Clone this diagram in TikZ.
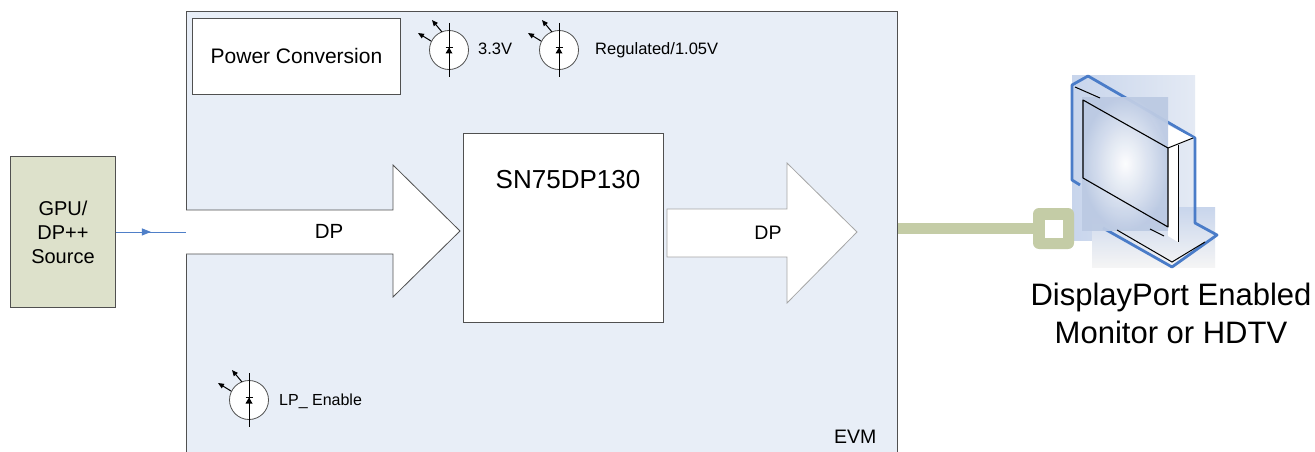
\documentclass[tikz,border=0pt]{standalone}
\usepackage{fontspec}
\setmainfont{Liberation Sans}
\usetikzlibrary{decorations.markings,arrows.meta}
\definecolor{evmfill}{HTML}{E8EEF7}
\definecolor{gpufill}{HTML}{DDE1CB}
\definecolor{cablecol}{HTML}{C4CCA6}
\definecolor{linkblue}{HTML}{4F7FC8}
\definecolor{monblue}{HTML}{4A7CC8}
\definecolor{monlight}{HTML}{C8D5EC}
\definecolor{monpale}{HTML}{E4EAF4}
\definecolor{screenedge}{HTML}{BCCAE3}
\definecolor{boxline}{HTML}{505050}
\begin{document}
\begin{tikzpicture}[x=1pt,y=-1pt,
  evmbox/.style={draw=boxline, line width=0.9pt, fill=evmfill, inner sep=0pt},
  gpubox/.style={draw=boxline, line width=0.9pt, fill=gpufill, inner sep=0pt, align=center,
     font=\fontsize{20}{24}\selectfont},
  whitebox/.style={draw=boxline, line width=0.9pt, fill=white, inner sep=0pt},
  bigarrow/.style={fill=white, line width=0.8pt, line join=miter},
  lbl/.style={inner sep=0pt, anchor=base west, font=\fontsize{16.5}{18}\selectfont},
  linkline/.style={draw=linkblue, line width=0.9pt,
     postaction={decorate}, decoration={markings,
       mark=at position 0.5 with {\arrow[linkblue]{Triangle[length=9pt,width=7pt]}}}},
  cable/.style={draw=cablecol, line width=11pt},
  led/.pic={
    \draw[fill=white, draw=boxline, line width=0.8pt] (0,0) circle (19.5);
    \draw[line width=0.9pt] (0,-27) -- (0,27);
    \fill (-3.5,3.5) -- (3.5,3.5) -- (0,-2.5) -- cycle;
    \draw[line width=1pt] (-3.5,-2.8) -- (3.5,-2.8);
    \draw[line width=1pt, -{Triangle[length=6pt,width=5pt]}] (-18,-9) -- (-31,-17);
    \draw[line width=1pt, -{Triangle[length=6pt,width=5pt]}] (-7,-18) -- (-17,-30);
  }]
\useasboundingbox (0,0) rectangle (1315,452);
\clip (0,0) rectangle (1315,452);
\fill[white] (0,0) rectangle (1315,452);

% EVM board
\node[evmbox, minimum width=711pt, minimum height=470pt, anchor=north west] (evm) at (186,11) {};
\node[inner sep=0pt, anchor=base west, font=\fontsize{19.5}{22}\selectfont] (evmlabel) at (834,443) {EVM};

% Power conversion
\node[whitebox, minimum width=208pt, minimum height=76pt, anchor=north west,
      font=\fontsize{21}{24}\selectfont] (pc) at (192,18) {Power Conversion};

% LED indicators
\pic at (449,50) {led};
\node[lbl] (l33) at (478,55) {3.3V};
\pic at (559,50) {led};
\node[lbl] (lreg) at (595,55) {Regulated/1.05V};
\pic at (249,400) {led};
\node[lbl, font=\fontsize{16}{18}\selectfont] (llp) at (279,405) {LP\_ Enable};

% Input DP arrow
\draw[bigarrow, draw=boxline] (186,210) -- (393,210) -- (393,165) -- (460,231)
   -- (393,297) -- (393,254) -- (186,254);
\node[font=\fontsize{20.5}{24}\selectfont] (dpin) at (329,231) {DP};

% Chip
\node[whitebox, minimum width=200pt, minimum height=189pt, anchor=north west] (chip) at (463,133) {};
\node[font=\fontsize{26}{30}\selectfont] (chiplabel) at (568,180) {SN75DP130};

% Output DP arrow
\draw[bigarrow, draw=gray!70] (667,209) -- (787,209) -- (787,163) -- (857,232)
   -- (787,303) -- (787,257) -- (667,257) -- cycle;
\node[font=\fontsize{19.5}{24}\selectfont] (dpout) at (768,233) {DP};

% GPU source
\node[gpubox, minimum width=105pt, minimum height=151pt, anchor=north west] (gpu) at (10,156) {GPU/\\DP++\\Source};
\draw[linkline] (gpu.east) -- (evm.west |- gpu.east);

% Monitor
\shade[left color=monlight, right color=monpale] (1072,76) rectangle (1195,240);
\shade[top color=monlight, bottom color=gray!8] (1092,207) rectangle (1215,267);
\draw[monblue, line width=2.8pt, line join=round] (1080,185) -- (1072,180) -- (1072,85)
   -- (1088,76) -- (1195,138) -- (1195,223) -- (1217,235) -- (1172,267) -- (1103,228);
\fill[white] (1150,116) -- (1193,138) -- (1178,145) -- (1168,148) -- cycle;
\fill[white] (1168,148) -- (1178,145) -- (1178,242) -- (1168,236) -- cycle;
\shade[inner color=white, outer color=screenedge, opacity=0.95] (1082,97) rectangle (1168,230);
\draw[line width=1.1pt, line join=round] (1083,100) -- (1168,148) -- (1168,227) -- (1083,178) -- cycle;
\draw[line width=1pt] (1075,87) -- (1100,98);
\draw[line width=1pt] (1168,148) -- (1193,138);
\draw[line width=1pt] (1178,145) -- (1178,242);
\draw[line width=1pt] (1117,230) -- (1172,262) -- (1205,242);
\draw[line width=1pt] (1150,229) -- (1164,236);

% Cable and plug
\node[fill=cablecol, rounded corners=6pt, minimum size=41pt, inner sep=0pt] (plug) at (1053.5,228.5) {};
\node[fill=white, minimum size=18pt, inner sep=0pt] (plughole) at (1054,228.5) {};
\draw[cable] (evm.east |- plug.center) -- (plug.west);

% Monitor caption
\node[anchor=base, inner sep=0pt, font=\fontsize{31}{38}\selectfont] (mon1) at (1171,305) {DisplayPort Enabled};
\node[anchor=base, inner sep=0pt, font=\fontsize{31}{38}\selectfont] (mon2) at (1171,343) {Monitor or HDTV};
\end{tikzpicture}
\end{document}
